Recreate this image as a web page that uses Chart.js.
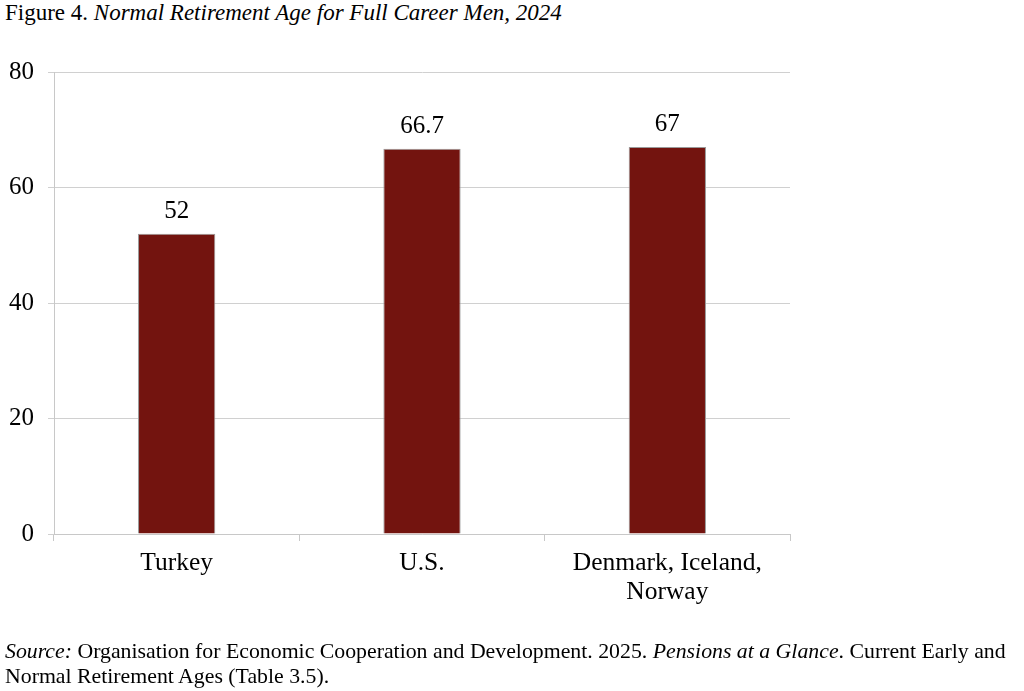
<!DOCTYPE html>
<html>
<head>
<meta charset="utf-8">
<script src="https://cdn.jsdelivr.net/npm/chart.js@4/dist/chart.umd.min.js"></script>
<style>
  html, body { margin: 0; padding: 0; background: #fff; }
  body { width: 1024px; height: 691px; position: relative; overflow: hidden; font-family: "Liberation Serif", "Times New Roman", serif; color: #000; }
  #title { position: absolute; left: 5px; top: 0px; font-size: 23px; }
  #source { position: absolute; left: 5px; top: 639px; font-size: 21.8px; line-height: 25px; width: 1019px; white-space: nowrap; }
  #wrap { position: absolute; left: 0; top: 0; width: 1024px; height: 691px; }
</style>
</head>
<body>
<div id="title">Figure 4. <i>Normal Retirement Age for Full Career Men, 2024</i></div>
<div id="wrap"><canvas id="myChart"></canvas></div>
<div id="source"><i>Source:</i> Organisation for Economic Cooperation and Development. 2025. <i>Pensions at a Glance</i>. Current Early and<br>Normal Retirement Ages (Table 3.5).</div>
<script>
// chart data
var categories = ['Turkey', 'U.S.', ['Denmark, Iceland,', 'Norway']];
var retirementAge = [52, 66.7, 67];
var valueLabels = ['52', '66.7', '67'];
var yTicks = [0, 20, 40, 60, 80];

Chart.defaults.font.family = "'Liberation Serif', 'Times New Roman', serif";
Chart.defaults.color = '#000';

// draws the number above each bar
var barLabels = {
  id: 'barLabels',
  afterDatasetsDraw: function (chart) {
    var ctx = chart.ctx;
    var meta = chart.getDatasetMeta(0);
    ctx.save();
    ctx.font = "25px 'Liberation Serif', serif";
    ctx.fillStyle = '#000';
    ctx.textAlign = 'center';
    ctx.textBaseline = 'alphabetic';
    meta.data.forEach(function (bar, i) {
      ctx.fillText(valueLabels[i], bar.x, bar.y - 16);
    });
    ctx.restore();
  }
};

var ctx = document.getElementById('myChart').getContext('2d');
var myChart = new Chart(ctx, {
  type: 'bar',
  data: {
    labels: categories,
    datasets: [{
      data: retirementAge,
      backgroundColor: '#73140f',
      borderColor: '#9a9a9a',
      borderWidth: 1,
      categoryPercentage: 1,
      barPercentage: 0.315
    }]
  },
  options: {
    responsive: true,
    maintainAspectRatio: false,
    animation: false,
    layout: { padding: { top: 72, right: 234, bottom: 57, left: 0 } },
    plugins: { legend: { display: false }, tooltip: { enabled: false } },
    scales: {
      x: {
        afterFit: function (scale) { scale.height = 100; },
        grid: { drawOnChartArea: false, drawTicks: true, tickLength: 7, color: '#c8c8c8' },
        border: { color: '#c8c8c8' },
        ticks: { padding: 8, font: { size: 25.5, lineHeight: 1.14 } }
      },
      y: {
        min: 0,
        max: 80,
        afterFit: function (scale) { scale.width = 54; },
        afterBuildTicks: function (scale) {
          scale.ticks = yTicks.map(function (v) { return { value: v }; });
        },
        grid: { color: '#d0d0d0', tickLength: 6 },
        border: { color: '#c8c8c8' },
        ticks: { padding: 14, font: { size: 25 } }
      }
    }
  },
  plugins: [barLabels]
});
</script>
</body>
</html>
